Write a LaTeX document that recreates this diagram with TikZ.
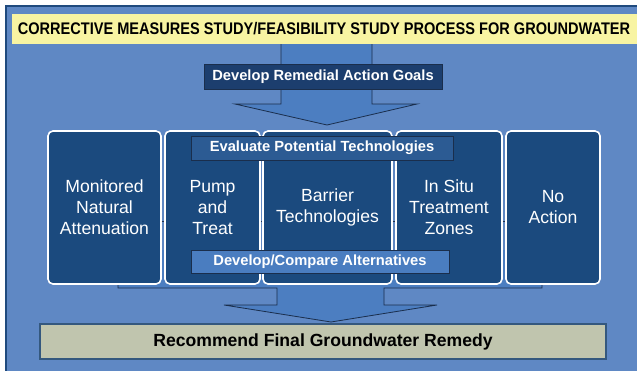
\documentclass[tikz,border=0pt]{standalone}
\usepackage{fontspec}
\setmainfont{Liberation Sans}
\usetikzlibrary{calc}

\definecolor{panelblue}{HTML}{5F88C4}
\definecolor{panelline}{HTML}{1F4A7E}
\definecolor{titleyellow}{HTML}{F8F4A2}
\definecolor{arrowblue}{HTML}{4C7EC1}
\definecolor{navyline}{HTML}{1A2E4C}
\definecolor{boxblue}{HTML}{1B4A7E}
\definecolor{goalsblue}{HTML}{1C3E6E}
\definecolor{evalblue}{HTML}{2C5B93}
\definecolor{altblue}{HTML}{4A7DC0}
\definecolor{remedygrey}{HTML}{C0C5AE}
\definecolor{remedyline}{HTML}{34587E}

\begin{document}
\begin{tikzpicture}[x=1pt, y=-1pt,
    optbox/.style={draw=white, line width=1.6pt, rounded corners=5pt, fill=boxblue,
        text=white, align=center, minimum height=153pt, inner sep=0pt,
        font=\fontsize{17.6}{21}\selectfont},
    bar/.style={draw=navyline, line width=0.8pt, text=white, inner sep=0pt,
        font=\fontsize{14.7}{17}\selectfont\bfseries},
    blockarrow/.style={fill=arrowblue},
    arrowedge/.style={draw=navyline, line width=0.8pt}
  ]

  \useasboundingbox (0,0) rectangle (637,370);
  \clip (0,0) rectangle (637,370);

  % panel and title
  \draw[draw=panelline, line width=1.5pt, fill=panelblue] (6,6) rectangle (650,380);
  \fill[titleyellow] (12,14) rectangle (650,44);
  \node (title) at (324,29) {\scalebox{0.867}[1]{\fontsize{16.8}{20}\selectfont\bfseries
      CORRECTIVE MEASURES STUDY/FEASIBILITY STUDY PROCESS FOR GROUNDWATER}};

  % top arrow
  \fill[blockarrow] (281,44) -- (281,104) -- (235,104) -- (327,125) -- (417,104)
      -- (372,104) -- (372,44) -- cycle;
  \draw[arrowedge] (281,44) -- (281,104) -- (235,104) -- (327,125) -- (417,104)
      -- (372,104) -- (372,44);
  \node[bar, fill=goalsblue, minimum width=238pt, minimum height=25pt]
      (goals) at (323,76.5) {Develop Remedial Action Goals};

  % bottom arrow
  \fill[blockarrow] (118,250) -- (118,288) -- (277,288) -- (277,305) -- (224,305)
      -- (331,322) -- (437,305) -- (384,305) -- (384,288) -- (542,288) -- (542,250) -- cycle;
  \draw[arrowedge] (118,250) -- (118,288) -- (277,288) -- (277,305) -- (224,305)
      -- (331,322) -- (437,305) -- (384,305) -- (384,288) -- (542,288) -- (542,250);

  % options
  \node[optbox, minimum width=113pt] (mna) at (104.5,207.5) {Monitored\\Natural\\Attenuation};
  \node[optbox, minimum width=95pt] (pat) at (212.5,207.5) {Pump\\and\\Treat};
  \node[optbox, minimum width=129pt] (barrier) at (327.5,207.5) {Barrier\\Technologies};
  \node[optbox, minimum width=106pt] (insitu) at (449,207.5) {In Situ\\Treatment\\Zones};
  \node[optbox, minimum width=94pt] (noaction) at (553,207.5) {No\\Action};

  \draw[arrowedge] ($(mna.east)+(0,13.5)$) -- ($(pat.west)+(0,13.5)$);
  \draw[arrowedge] ($(pat.east)+(0,13.5)$) -- ($(barrier.west)+(0,13.5)$);
  \draw[arrowedge] ($(barrier.east)+(0,13.5)$) -- ($(insitu.west)+(0,13.5)$);
  \draw[arrowedge] ($(insitu.east)+(0,13.5)$) -- ($(noaction.west)+(0,13.5)$);

  \node[bar, fill=evalblue, minimum width=262pt, minimum height=24pt]
      (evaltech) at (322,148) {Evaluate Potential Technologies};
  \node[bar, fill=altblue, minimum width=258pt, minimum height=23pt]
      (devalt) at (320,261.5) {Develop/Compare Alternatives};

  % final step
  \node[draw=remedyline, line width=1.5pt, fill=remedygrey, minimum width=566pt,
      minimum height=35pt, inner sep=0pt, font=\fontsize{17.6}{21}\selectfont\bfseries]
      (remedy) at (323,341.5) {Recommend Final Groundwater Remedy};

\end{tikzpicture}
\end{document}
